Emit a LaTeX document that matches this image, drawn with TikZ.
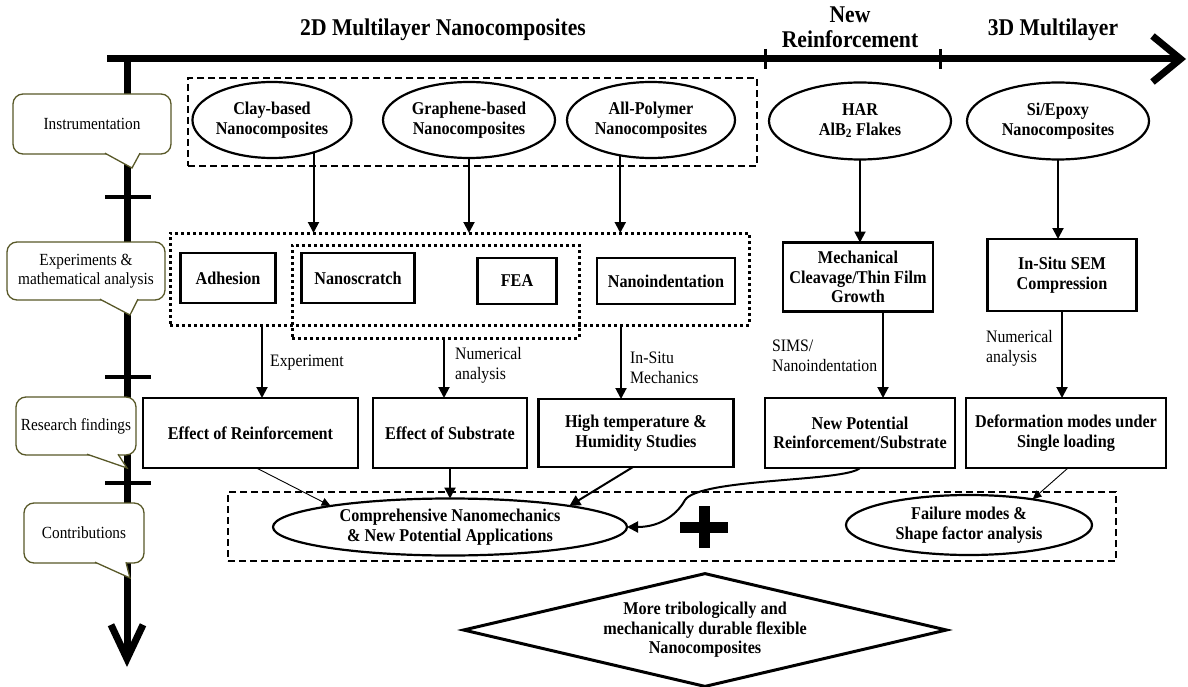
\documentclass[tikz,border=0pt]{standalone}
\usepackage{fontspec}
\setmainfont{Liberation Serif}[FakeStretch=0.9]
\usetikzlibrary{shapes.geometric,arrows.meta,calc}
\definecolor{olivedk}{RGB}{88,88,40}

\begin{document}
\begin{tikzpicture}[x=1pt,y=1pt,
  box/.style={draw, line width=2.2pt, align=center, inner sep=0pt, outer sep=0pt, font=\bfseries\fontsize{18}{19.5}\selectfont},
  oval/.style={ellipse, draw, line width=2.2pt, align=center, inner sep=0pt, outer sep=0pt, font=\bfseries\fontsize{18}{19.5}\selectfont},
  head/.style={align=center, font=\bfseries\fontsize{24}{25}\selectfont},
  note/.style={anchor=west, align=left, inner sep=0pt, font=\fontsize{17.5}{20}\selectfont},
  bubble/.style={draw=olivedk, fill=white, line width=1.3pt, rounded corners=10pt, align=center, inner sep=0pt, outer sep=0pt, font=\fontsize{17}{19.5}\selectfont},
  pointer/.style={draw=olivedk, fill=white, line width=1.3pt},
  dashbox/.style={draw, line width=2.2pt, dash pattern=on 7pt off 4pt, inner sep=0pt, outer sep=0pt},
  dotbox/.style={draw, line width=3pt, dash pattern=on 3pt off 3pt, inner sep=0pt, outer sep=0pt},
  arr/.style={line width=2pt, -{Triangle[length=11pt,width=11pt]}},
  thinarr/.style={line width=0.9pt, -{Triangle[length=9pt,width=8pt]}},
  axis/.style={line width=7pt},
  htick/.style={line width=3pt},
  vtick/.style={line width=4.5pt}]
  \useasboundingbox (0,0) rectangle (1188,-687);

  % time line and stages
  \draw[axis, -{Straight Barb[length=28pt,width=46pt]}] (107,-59) -- (1186,-59);
  \draw[axis, -{Straight Barb[length=34pt,width=32pt]}] (127,-59) -- (127,-667);
  \draw[htick] (765,-49) -- (765,-69);
  \draw[htick] (940,-49) -- (940,-69);
  \draw[vtick] (105,-197) -- (151,-197);
  \draw[vtick] (105,-377) -- (151,-377);
  \draw[vtick] (105,-483) -- (151,-483);

  \node[head] (t2d) at (443,-30) {2D Multilayer Nanocomposites};
  \node[head] (tnew) at (850,-27) {New\\Reinforcement};
  \node[head] (t3d) at (1053,-30) {3D Multilayer};

  % stage bubbles
  \node[bubble, minimum width=158pt, minimum height=60pt] (instr) at (92,-124) {Instrumentation};
  \draw[pointer] ($(instr.south)+(13,0.8)$) -- (132,-168) -- ($(instr.south)+(48,0.8)$);
  \node[bubble, minimum width=158pt, minimum height=58pt] (expt) at (86,-271) {Experiments \&\\mathematical analysis};
  \draw[pointer] ($(expt.south)+(14,0.8)$) -- (130,-315) -- ($(expt.south)+(52,0.8)$);
  \node[bubble, minimum width=120pt, minimum height=58pt] (findings) at (76,-426) {Research findings};
  \draw[pointer] ($(findings.south)+(11,0.8)$) -- (127,-468) -- ($(findings.south)+(42,0.8)$);
  \node[bubble, minimum width=120pt, minimum height=60pt] (contrib) at (84,-533) {Contributions};
  \draw[pointer] ($(contrib.south)+(11,0.8)$) -- (130,-578) -- ($(contrib.south)+(42,0.8)$);

  % materials
  \node[dashbox, minimum width=569pt, minimum height=88pt] (instbox) at (472.5,-122) {};
  \node[oval, minimum width=156pt, minimum height=76pt] (clay) at (272,-120) {Clay-based\\Nanocomposites};
  \node[oval, minimum width=172pt, minimum height=76pt] (graphene) at (469,-120) {Graphene-based\\Nanocomposites};
  \node[oval, minimum width=168pt, minimum height=76pt] (allpoly) at (651,-120) {All-Polymer\\Nanocomposites};
  \node[oval, minimum width=182pt, minimum height=77pt] (har) at (860,-121) {HAR\\AlB\textsubscript{2} Flakes};
  \node[oval, minimum width=182pt, minimum height=77pt] (siepoxy) at (1058,-121) {Si/Epoxy\\Nanocomposites};

  % experiments
  \node[dotbox, minimum width=579pt, minimum height=92pt] (expbox) at (459.5,-279) {};
  \node[dotbox, minimum width=287pt, minimum height=93pt] (insbox) at (435.5,-291.5) {};
  \node[box, minimum width=95pt, minimum height=50pt] (adhesion) at (228,-278) {Adhesion};
  \node[box, minimum width=113pt, minimum height=50pt] (scratch) at (358,-278) {Nanoscratch};
  \node[box, minimum width=79pt, minimum height=46pt] (fea) at (517,-281) {FEA};
  \node[box, minimum width=138pt, minimum height=46pt] (indent) at (666,-281) {Nanoindentation};
  \node[box, minimum width=150pt, minimum height=69pt] (cleave) at (858,-277) {Mechanical\\Cleavage/Thin Film\\Growth};
  \node[box, minimum width=149pt, minimum height=72pt] (sem) at (1062,-275) {In-Situ SEM\\Compression};

  \draw[arr] (clay.-38) -- (clay.-38 |- expbox.north);
  \draw[arr] (graphene.south) -- (graphene.south |- expbox.north);
  \draw[arr] (allpoly.-131) -- (allpoly.-131 |- expbox.north);
  \draw[arr] (har.south) -- (har.south |- cleave.north);
  \draw[arr] (siepoxy.south) -- (siepoxy.south |- sem.north);

  % findings
  \node[box, minimum width=215pt, minimum height=70pt] (reinf) at (250.5,-433) {Effect of Reinforcement};
  \node[box, minimum width=154pt, minimum height=70pt] (substr) at (450,-433) {Effect of Substrate};
  \node[box, minimum width=195pt, minimum height=68pt] (hightemp) at (636,-433) {High temperature \&\\Humidity Studies};
  \node[box, minimum width=190pt, minimum height=70pt] (newpot) at (860,-433) {New Potential\\Reinforcement/Substrate};
  \node[box, minimum width=200pt, minimum height=70pt] (deform) at (1066,-433) {Deformation modes under\\Single loading};

  \coordinate (r1) at ($(reinf.north)+(11.5,0)$);
  \coordinate (s1) at ($(substr.north)+(-6,0)$);
  \coordinate (h1) at ($(hightemp.north)+(-15,0)$);
  \coordinate (c1) at ($(cleave.south)+(25,0)$);
  \draw[arr] (r1 |- expbox.south) -- (r1);
  \draw[arr] (s1 |- insbox.south) -- (s1);
  \draw[arr] (h1 |- expbox.south) -- (h1);
  \draw[arr] (c1) -- (c1 |- newpot.north);
  \draw[arr] (sem.south) -- (sem.south |- deform.north);

  \node[note] (lexp) at (270,-363) {Experiment};
  \node[note] (lnum) at (455,-365) {Numerical\\analysis};
  \node[note] (lsitu) at (630,-368) {In-Situ\\Mechanics};
  \node[note] (lsims) at (772,-356) {SIMS/\\Nanoindentation};
  \node[note] (lnum2) at (986,-348) {Numerical\\analysis};

  % contributions
  \node[dashbox, minimum width=888pt, minimum height=69pt] (contbox) at (672,-526.5) {};
  \node[oval, minimum width=354pt, minimum height=57pt] (compr) at (450,-527) {Comprehensive Nanomechanics\\\& New Potential Applications};
  \node[oval, minimum width=246pt, minimum height=60pt] (failure) at (969,-525) {Failure modes \&\\Shape factor analysis};
  \draw[line width=11pt] (680,-527) -- (728,-527);
  \draw[line width=11pt] (704,-506) -- (704,-548);

  \draw[thinarr] ($(reinf.south)+(6,0)$) -- (compr.170);
  \draw[arr] (substr.south) -- (substr.south |- compr.north);
  \draw[arr] ($(hightemp.south)+(-3,0)$) -- (compr.10);
  \draw[arr] (newpot.south) .. controls (845,-482) and (700,-478) .. (685,-500)
    .. controls (678,-513) and (662,-527) .. (compr.east);
  \draw[thinarr] ($(deform.south)+(2,0)$) -- (failure.22);

  % outcome
  \node[diamond, draw, line width=3pt, aspect=4.25, minimum width=484pt, minimum height=114pt, inner sep=0pt, align=center,
    font=\bfseries\fontsize{18}{19.5}\selectfont] (durable) at (705,-630)
    {More tribologically and\\mechanically durable flexible\\Nanocomposites};
\end{tikzpicture}
\end{document}
